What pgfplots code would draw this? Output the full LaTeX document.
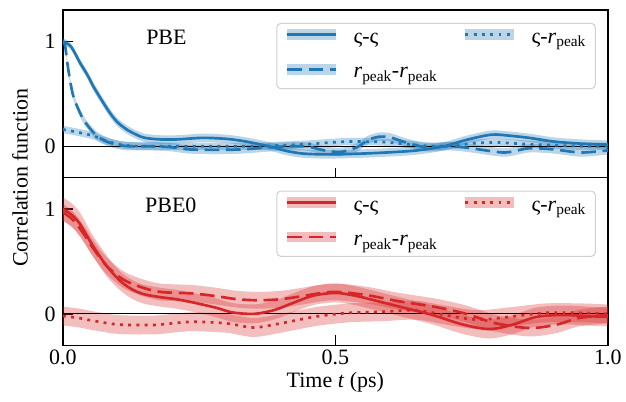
\documentclass[border=0pt]{standalone}
\usepackage{fontspec}
\setmainfont{Liberation Serif}
\usepackage{pgfplots}
\pgfplotsset{compat=1.18}
\usepackage{pgfplotstable}
\usepgfplotslibrary{fillbetween}
\definecolor{cB}{RGB}{31,119,180}
\definecolor{cR}{RGB}{214,39,40}

% PBE
\pgfplotstableread{
x y e
0 1.00 0.03
0.015 0.95 0.03
0.031 0.80 0.035
0.045 0.68 0.035
0.056 0.57 0.04
0.07 0.45 0.04
0.086 0.32 0.04
0.10 0.23 0.04
0.117 0.16 0.04
0.135 0.11 0.04
0.15 0.08 0.04
0.178 0.065 0.04
0.21 0.065 0.04
0.257 0.08 0.04
0.30 0.07 0.04
0.33 0.05 0.04
0.36 0.02 0.04
0.385 -0.01 0.04
0.41 -0.045 0.04
0.44 -0.07 0.04
0.48 -0.078 0.04
0.52 -0.075 0.04
0.56 -0.068 0.04
0.60 -0.058 0.04
0.65 -0.04 0.04
0.70 0.00 0.04
0.74 0.06 0.04
0.786 0.11 0.04
0.82 0.10 0.04
0.855 0.08 0.04
0.90 0.045 0.04
0.95 0.025 0.04
1.00 0.015 0.04
}\tss
\pgfplotstableread{
x y e
0 1.00 0.03
0.004 0.96 0.03
0.01 0.73 0.03
0.019 0.48 0.03
0.034 0.29 0.035
0.045 0.20 0.035
0.062 0.10 0.04
0.08 0.045 0.04
0.098 0.016 0.04
0.12 0.0 0.04
0.16 0.0 0.04
0.20 -0.01 0.04
0.23 -0.03 0.04
0.28 -0.035 0.04
0.33 -0.03 0.04
0.38 -0.01 0.04
0.42 0.0 0.04
0.45 -0.005 0.04
0.48 -0.04 0.04
0.51 -0.055 0.04
0.54 -0.01 0.04
0.56 0.06 0.04
0.58 0.09 0.04
0.60 0.085 0.04
0.63 0.035 0.04
0.667 -0.01 0.04
0.71 0.0 0.04
0.75 -0.02 0.04
0.81 -0.06 0.04
0.855 -0.02 0.04
0.90 -0.03 0.04
0.95 -0.06 0.04
1.00 -0.04 0.04
}\tdd
\pgfplotstableread{
x y e
0 0.16 0.035
0.03 0.13 0.035
0.055 0.10 0.035
0.075 0.06 0.035
0.09 0.035 0.035
0.11 0.012 0.035
0.14 0.0 0.035
0.20 0.0 0.035
0.30 0.0 0.035
0.36 0.0 0.035
0.40 0.008 0.035
0.45 0.02 0.035
0.49 0.035 0.035
0.53 0.045 0.035
0.586 0.04 0.035
0.63 0.02 0.035
0.68 0.0 0.035
0.72 0.01 0.035
0.76 0.03 0.035
0.80 0.035 0.035
0.85 0.02 0.035
0.90 0.01 0.035
0.95 0.0 0.035
1.00 0.0 0.035
}\tsr
% PBE0
\pgfplotstableread{
x y e
0 1.00 0.11
0.015 0.95 0.11
0.031 0.86 0.11
0.055 0.65 0.10
0.08 0.46 0.10
0.104 0.32 0.09
0.125 0.24 0.09
0.147 0.19 0.09
0.178 0.16 0.09
0.208 0.14 0.09
0.238 0.11 0.09
0.28 0.06 0.09
0.31 0.015 0.09
0.34 0.0 0.09
0.36 0.005 0.09
0.39 0.04 0.09
0.42 0.10 0.09
0.46 0.175 0.09
0.50 0.20 0.09
0.53 0.18 0.09
0.556 0.15 0.09
0.617 0.07 0.09
0.678 -0.01 0.09
0.733 -0.10 0.09
0.782 -0.145 0.09
0.824 -0.105 0.09
0.868 -0.03 0.09
0.916 -0.01 0.09
0.96 -0.02 0.09
1.00 -0.03 0.09
}\bss
\pgfplotstableread{
x y e
0 0.97 0.08
0.02 0.89 0.08
0.04 0.75 0.08
0.055 0.63 0.08
0.08 0.46 0.08
0.11 0.33 0.08
0.141 0.26 0.08
0.178 0.21 0.08
0.238 0.195 0.08
0.28 0.17 0.08
0.32 0.14 0.08
0.36 0.13 0.08
0.40 0.14 0.08
0.434 0.165 0.08
0.495 0.21 0.08
0.556 0.18 0.08
0.617 0.12 0.08
0.685 0.065 0.08
0.733 0.01 0.08
0.764 -0.04 0.08
0.794 -0.09 0.08
0.855 -0.135 0.08
0.904 -0.105 0.08
0.947 -0.04 0.08
1.00 -0.01 0.08
}\bdd
\pgfplotstableread{
x y e
0 -0.02 0.09
0.03 -0.04 0.09
0.055 -0.065 0.09
0.09 -0.095 0.09
0.117 -0.105 0.09
0.17 -0.105 0.09
0.21 -0.085 0.09
0.24 -0.075 0.09
0.30 -0.09 0.09
0.35 -0.13 0.09
0.40 -0.09 0.09
0.465 -0.025 0.09
0.526 0.01 0.09
0.586 0.02 0.09
0.648 0.035 0.09
0.70 -0.01 0.09
0.76 -0.055 0.09
0.824 -0.025 0.09
0.886 0.01 0.09
0.95 0.01 0.09
1.00 0.0 0.09
}\bsr

\newcommand{\rp}{\textit{r}\textsubscript{peak}}
\newcommand{\fnt}{\fontsize{16.5}{19}\selectfont}

\pgfplotsset{
  panel/.style={
    scale only axis, width=409.5pt, height=126pt,
    xmin=0, xmax=1, ymin=-0.3, ymax=1.3,
    xtick={0,0.5,1}, ytick={0,1},
    tick align=inside, xtick pos=bottom, ytick pos=left,
    major tick length=7.5pt,
    every tick/.style={black, line width=1pt},
    axis line style={line width=1.2pt},
    tick label style={font=\fnt},
    yticklabel style={xshift=-2pt},
    /pgf/number format/assume math mode=true,
    legend columns=2,
    legend cell align=left,
    legend style={at={(0.978,0.923)}, anchor=north east,
      draw=black!18, line width=0.8pt, rounded corners=3pt, fill=white,
      font=\fnt,
      inner xsep=7pt, inner ysep=4pt, row sep=11pt,
      nodes={inner xsep=0pt, inner ysep=0pt, text height=11pt, text depth=4pt},
      /tikz/every odd column/.append style={column sep=12pt},
      /tikz/every even column/.append style={column sep=20pt}},
  },
  legB/.style={legend image code/.code={
     \fill[draw=none, fill=cB, fill opacity=0.3, rounded corners=0pt] (0pt,-1.1pt) rectangle (36.75pt,7.1pt);
     \draw[##1, rounded corners=0pt] (0pt,3pt) -- (36.75pt,3pt);}},
  legR/.style={legend image code/.code={
     \fill[draw=none, fill=cR, fill opacity=0.3, rounded corners=0pt] (0pt,-1.1pt) rectangle (36.75pt,7.1pt);
     \draw[##1, rounded corners=0pt] (0pt,3pt) -- (36.75pt,3pt);}},
  ldash/.style={dash pattern=on 11pt off 5pt},
  ldot/.style={dash pattern=on 2.2pt off 4pt},
}

\begin{document}
\begin{tikzpicture}

% ---------- top panel (PBE) ----------
\begin{axis}[panel, at={(0pt,126pt)}, anchor=south west, xticklabels={}]
  \addplot[name path=aU, draw=none, forget plot, smooth] table[x=x, y expr=\thisrow{y}+\thisrow{e}] {\tss};
  \addplot[name path=aL, draw=none, forget plot, smooth] table[x=x, y expr=\thisrow{y}-\thisrow{e}] {\tss};
  \addplot[cB, fill opacity=0.3, draw=none, forget plot] fill between[of=aU and aL];
  \addplot[name path=bU, draw=none, forget plot, smooth] table[x=x, y expr=\thisrow{y}+\thisrow{e}] {\tdd};
  \addplot[name path=bL, draw=none, forget plot, smooth] table[x=x, y expr=\thisrow{y}-\thisrow{e}] {\tdd};
  \addplot[cB, fill opacity=0.3, draw=none, forget plot] fill between[of=bU and bL];
  \addplot[name path=cU, draw=none, forget plot, smooth] table[x=x, y expr=\thisrow{y}+\thisrow{e}] {\tsr};
  \addplot[name path=cL, draw=none, forget plot, smooth] table[x=x, y expr=\thisrow{y}-\thisrow{e}] {\tsr};
  \addplot[cB, fill opacity=0.3, draw=none, forget plot] fill between[of=cU and cL];
  \addplot[black, line width=0.8pt, forget plot] coordinates {(0,0) (1,0)};
  \addplot[cB, line width=2pt, smooth, legB] table[x=x, y=y] {\tss};
  \addlegendentry{ς-ς}
  \addplot[cB, line width=2pt, smooth, ldot, legB] table[x=x, y=y] {\tsr};
  \addlegendentry{ς-\rp}
  \addplot[cB, line width=2pt, smooth, ldash, legB] table[x=x, y=y] {\tdd};
  \addlegendentry{\rp-\rp}
  \node[font=\fnt] at (axis cs:0.19,1.04) {PBE};
\end{axis}

% ---------- bottom panel (PBE0) ----------
\begin{axis}[panel, at={(0pt,0pt)}, anchor=south west, xticklabels={0.0,0.5,1.0}]
  \addplot[name path=dU, draw=none, forget plot, smooth] table[x=x, y expr=\thisrow{y}+\thisrow{e}] {\bss};
  \addplot[name path=dL, draw=none, forget plot, smooth] table[x=x, y expr=\thisrow{y}-\thisrow{e}] {\bss};
  \addplot[cR, fill opacity=0.3, draw=none, forget plot] fill between[of=dU and dL];
  \addplot[name path=eU, draw=none, forget plot, smooth] table[x=x, y expr=\thisrow{y}+\thisrow{e}] {\bdd};
  \addplot[name path=eL, draw=none, forget plot, smooth] table[x=x, y expr=\thisrow{y}-\thisrow{e}] {\bdd};
  \addplot[cR, fill opacity=0.3, draw=none, forget plot] fill between[of=eU and eL];
  \addplot[name path=fU, draw=none, forget plot, smooth] table[x=x, y expr=\thisrow{y}+\thisrow{e}] {\bsr};
  \addplot[name path=fL, draw=none, forget plot, smooth] table[x=x, y expr=\thisrow{y}-\thisrow{e}] {\bsr};
  \addplot[cR, fill opacity=0.3, draw=none, forget plot] fill between[of=fU and fL];
  \addplot[black, line width=0.8pt, forget plot] coordinates {(0,0) (1,0)};
  \addplot[cR, line width=2pt, smooth, legR] table[x=x, y=y] {\bss};
  \addlegendentry{ς-ς}
  \addplot[cR, line width=2pt, smooth, ldot, legR] table[x=x, y=y] {\bsr};
  \addlegendentry{ς-\rp}
  \addplot[cR, line width=2pt, smooth, ldash, legR] table[x=x, y=y] {\bdd};
  \addlegendentry{\rp-\rp}
  \node[font=\fnt] at (axis cs:0.198,1.04) {PBE0};
\end{axis}

\node[rotate=90, font=\fnt] at (-32.25pt,126pt) {Correlation function};
\node[font=\fnt] at (204.75pt,-27.75pt) {Time \textit{t} (ps)};
\path (-47.25pt,-42pt) rectangle (422.25pt,259.5pt);
\end{tikzpicture}
\end{document}
